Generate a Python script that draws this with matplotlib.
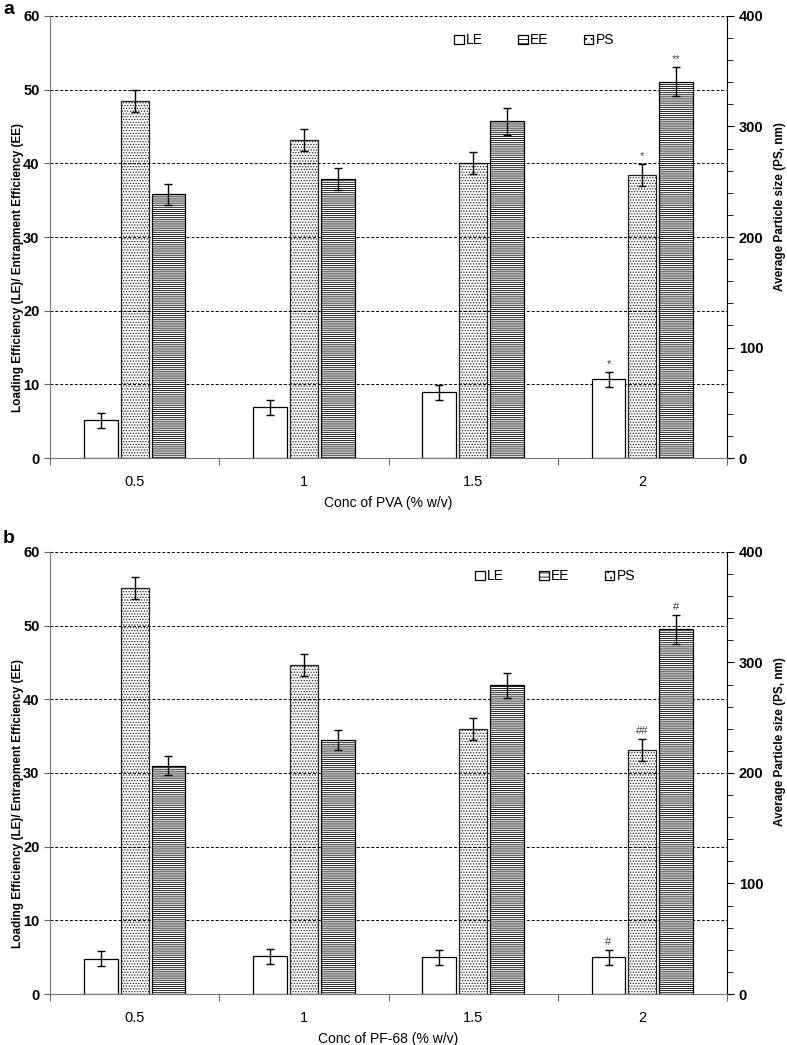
import matplotlib
matplotlib.use("Agg")
import matplotlib.pyplot as plt
from matplotlib.patches import Patch
from matplotlib.ticker import MultipleLocator
import numpy as np

plt.rcParams['font.family'] = ['Liberation Sans', 'DejaVu Sans']
plt.rcParams['hatch.linewidth'] = 0.6

# categories (polymer concentration, % w/v)
conc = ['0.5', '1', '1.5', '2']

# panel a: PVA
le_a = [5.1, 6.9, 8.9, 10.7]
le_a_err = [1.0, 1.0, 1.0, 1.0]
ee_a = [35.8, 37.9, 45.7, 51.1]
ee_a_err = [1.4, 1.5, 1.8, 2.0]
ps_a = [323, 288, 267, 256]
ps_a_err = [10, 10, 10, 10]
marks_a = {'LE': ['', '', '', '*'], 'PS': ['', '', '', '*'], 'EE': ['', '', '', '**']}

# panel b: PF-68
le_b = [4.8, 5.1, 5.0, 5.0]
le_b_err = [1.0, 1.0, 1.0, 1.0]
ee_b = [31.0, 34.5, 41.9, 49.5]
ee_b_err = [1.3, 1.4, 1.7, 2.0]
ps_b = [367, 298, 240, 221]
ps_b_err = [10, 10, 10, 10]
marks_b = {'LE': ['', '', '', '#'], 'PS': ['', '', '', '##'], 'EE': ['', '', '', '#']}


def panel(ax, le, le_err, ee, ee_err, ps, ps_err, marks, xlabel, leg_x):
    x = np.arange(len(conc))
    ax2 = ax.twinx()
    ax.set_zorder(ax2.get_zorder() + 1)
    ax.patch.set_visible(False)

    ekw = dict(ecolor='black', elinewidth=1, capsize=3, capthick=1)
    ax.bar(x - 0.2, le, 0.2, yerr=le_err, color='white', edgecolor='black',
           linewidth=0.9, error_kw=ekw, zorder=3)
    ax.bar(x + 0.2, ee, 0.2, yerr=ee_err, color='white', edgecolor='black',
           hatch='--------', linewidth=0.9, error_kw=ekw, zorder=3)
    ax2.bar(x, ps, 0.165, yerr=ps_err, color='white', edgecolor='#222222',
            hatch='......', linewidth=0.9, error_kw=ekw, zorder=3)

    for i in range(len(conc)):
        if marks['LE'][i]:
            ax.annotate(marks['LE'][i], (x[i] - 0.2, le[i] + le_err[i]), xytext=(0, 2),
                        textcoords='offset points', ha='center', va='bottom',
                        fontsize=8, color='#444444')
        if marks['EE'][i]:
            ax.annotate(marks['EE'][i], (x[i] + 0.2, ee[i] + ee_err[i]), xytext=(0, 2),
                        textcoords='offset points', ha='center', va='bottom',
                        fontsize=8, color='#444444')
        if marks['PS'][i]:
            ax2.annotate(marks['PS'][i], (x[i], ps[i] + ps_err[i]), xytext=(0, 2),
                         textcoords='offset points', ha='center', va='bottom',
                         fontsize=8, color='#444444')

    ax.set_xlim(-0.5, len(conc) - 0.5)
    ax.set_ylim(0, 60)
    ax2.set_ylim(0, 400)
    ax.set_yticks(range(0, 61, 10))
    ax2.set_yticks(range(0, 401, 100))
    ax2.yaxis.set_minor_locator(MultipleLocator(20))

    ax.set_xticks(np.arange(-0.5, len(conc), 1.0))
    ax.set_xticklabels([])
    ax.set_xticks(x, minor=True)
    ax.set_xticklabels(conc, minor=True, fontsize=10.5)
    ax.tick_params(axis='x', which='major', direction='out', length=5, color='#666666')
    ax.tick_params(axis='x', which='minor', length=0, pad=12)
    ax.tick_params(axis='y', direction='out', length=4, color='#666666', labelsize=10.5)
    ax2.tick_params(axis='y', which='both', direction='out', color='black', labelsize=10.5)
    ax2.tick_params(axis='y', which='major', length=5)
    ax2.tick_params(axis='y', which='minor', length=4)
    for lab in ax.get_yticklabels() + ax2.get_yticklabels():
        lab.set_fontweight('bold')

    ax.yaxis.grid(True, linestyle=(0, (3, 2)), color='black', linewidth=0.7)
    ax.set_axisbelow(True)
    for a in (ax, ax2):
        a.spines['top'].set_visible(False)
    ax.spines['left'].set_color('#777777')
    ax.spines['bottom'].set_color('#777777')
    ax.spines['right'].set_visible(False)
    ax2.spines['left'].set_visible(False)
    ax2.spines['bottom'].set_visible(False)
    ax2.spines['right'].set_color('black')

    ax.set_xlabel(xlabel, fontsize=10, labelpad=5)
    ax.set_ylabel('Loading Efficiency (LE)/ Entrapment Efficiency (EE)', fontsize=8.5,
                  fontweight='bold')
    ax.yaxis.set_label_coords(-0.039, 0.43)
    ax2.set_ylabel('Average Particle size (PS, nm)', fontsize=8.5, fontweight='bold')
    ax2.yaxis.set_label_coords(1.070, 0.57)

    handles = [Patch(facecolor='white', edgecolor='black', linewidth=0.9),
               Patch(facecolor='white', edgecolor='black', hatch='----', linewidth=0.9),
               Patch(facecolor='white', edgecolor='black', hatch='...', linewidth=0.9)]
    ax.legend(handles, ['LE', 'EE', 'PS'], ncol=3, frameon=False, fontsize=10,
              loc='center left', bbox_to_anchor=(leg_x, 0.945), handlelength=0.7,
              handleheight=0.7, handletextpad=0.15, columnspacing=2.55)


fig = plt.figure(figsize=(7.87, 10.45), dpi=100)
ax_a = fig.add_axes([0.0635, 0.5617, 0.8603, 0.4230])
ax_b = fig.add_axes([0.0635, 0.0488, 0.8603, 0.4230])

panel(ax_a, le_a, le_a_err, ee_a, ee_a_err, ps_a, ps_a_err, marks_a,
      'Conc of PVA (% w/v)', 0.578)
panel(ax_b, le_b, le_b_err, ee_b, ee_b_err, ps_b, ps_b_err, marks_b,
      'Conc of PF-68 (% w/v)', 0.609)

fig.text(0.004, 0.9995, 'a', fontsize=14, fontweight='bold', va='top', ha='left')
fig.text(0.004, 0.4925, 'b', fontsize=14, fontweight='bold', va='top', ha='left')

fig.savefig('out.png', dpi=100)
